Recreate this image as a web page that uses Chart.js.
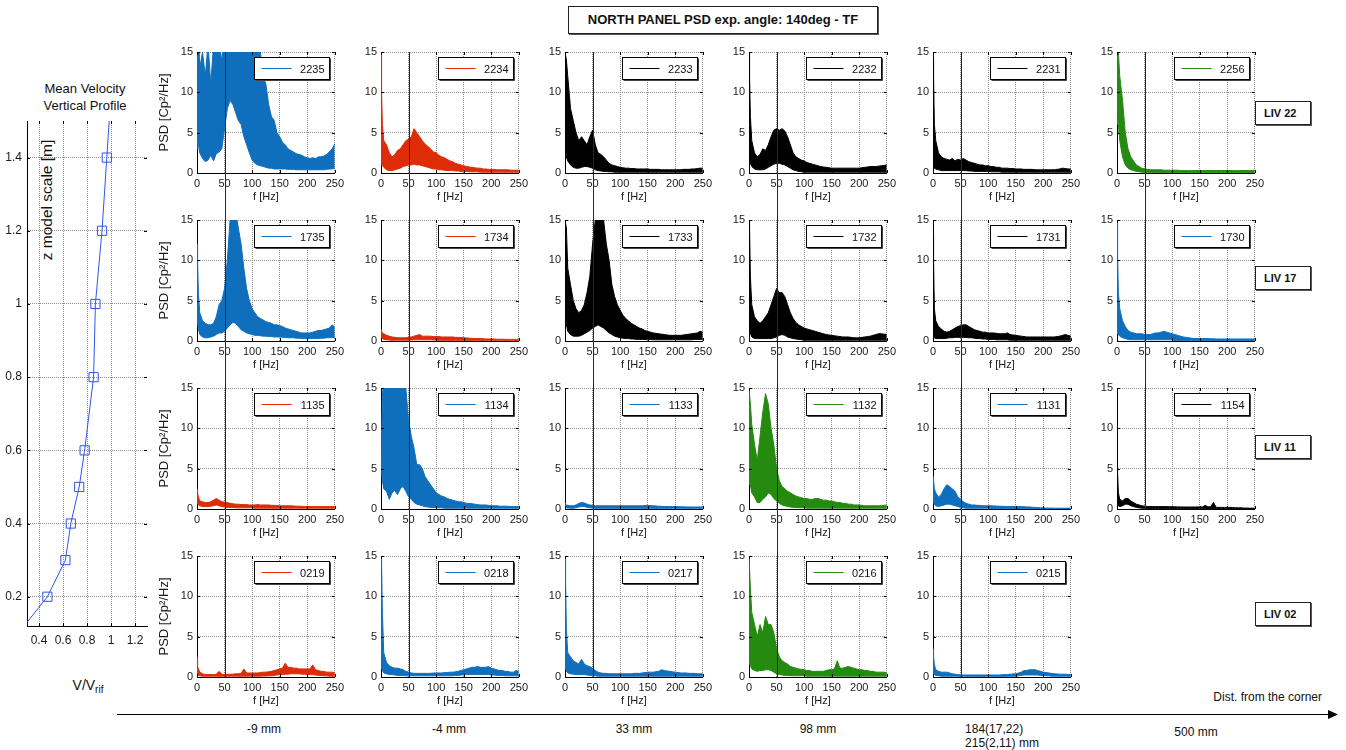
<!DOCTYPE html>
<html>
<head>
<meta charset="utf-8">
<script src="https://cdn.jsdelivr.net/npm/chart.js@4.4.1/dist/chart.umd.min.js"></script>
<style>
  body { margin: 0; width: 1346px; height: 750px; background: #fff; position: relative; overflow: hidden;
         font-family: 'Liberation Sans', Arial, sans-serif; color: #111; }
  canvas { position: absolute; }
  .txt { position: absolute; white-space: nowrap; }
  .box { position: absolute; box-sizing: border-box; background: #fff; border: 1px solid #222;
         box-shadow: 1px 1px 0 #555; font-weight: bold; }
</style>
</head>
<body>

<div class="box" style="left:568px; top:6px; width:310px; height:28px; line-height:26px; font-size:13px; text-align:center;">NORTH PANEL PSD exp. angle: 140deg - TF</div>

<div class="txt" style="left:20px; top:80px; width:130px; text-align:center; font-size:13px; line-height:17px;">Mean Velocity<br>Vertical Profile</div>
<div class="txt" style="left:47px; top:200px; font-size:15.5px; transform: translate(-50%, -50%) rotate(-90deg);">z model scale [m]</div>
<div class="txt" style="left:88px; top:686px; font-size:14px; transform: translate(-50%, -50%);">V/V<sub style="font-size:10px;">rif</sub></div>

<div id="liv"></div>

<svg style="position:absolute; left:0; top:700px;" width="1346" height="30">
  <line x1="117" y1="14.5" x2="1330" y2="14.5" stroke="#000" stroke-width="1"/>
  <path d="M1328 10 L1338 14.5 L1328 19 Z" fill="#000"/>
</svg>
<div class="txt" style="right:24px; top:690px; font-size:12px;">Dist. from the corner</div>
<div id="dist"></div>

<script>
// frequency grid shared by every PSD trace (Hz)
const FREQ = [0, 1, 2.5, 5,
  10, 15, 20, 25, 30, 35, 40, 45, 50,
  55, 60, 65, 70, 75, 80, 85, 90, 95, 100,
  105, 110, 115, 120, 125, 130, 135, 140, 145, 150,
  155, 160, 165, 170, 175, 180, 185, 190, 195, 200,
  205, 210, 215, 220, 225, 230, 235, 240, 245, 250];
const FREQ_TICKS = [0, 50, 100, 150, 200, 250];
const PSD_TICKS = [0, 5, 10, 15];
const MARK_FREQ = 50;

// upper / lower envelope of each noisy PSD trace
const hi2235 = [20, 20, 18, 13,
  15, 12, 16, 11, 16, 15, 16, 14, 17,
  17, 17, 16, 17, 16, 17, 16, 17, 16, 17,
  16, 16, 15, 12, 11, 8.5, 7, 6.5, 5, 4.5,
  3.8, 3.5, 3, 2.8, 2.6, 2.4, 2.3, 2.2, 2, 1.9,
  1.8, 1.9, 1.8, 2, 2, 2.1, 2.3, 2.6, 3, 3.6];
const lo2235 = [3, 4, 3.5, 2.5,
  1.8, 1.4, 1.6, 2.2, 1.5, 2.4, 2.6, 3, 5.5,
  8, 9, 8.5, 7.5, 6.5, 6, 4.5, 3.5, 2.5, 1.6,
  1.2, 1, 0.9, 0.8, 0.7, 0.6, 0.6, 0.5, 0.5, 0.5,
  0.5, 0.5, 0.45, 0.45, 0.45, 0.4, 0.4, 0.4, 0.4, 0.4,
  0.4, 0.4, 0.4, 0.4, 0.4, 0.4, 0.45, 0.5, 0.5, 0.6];

const hi2234 = [15, 10, 6, 4,
  3.5, 2.5, 2, 2.3, 2.8, 3, 3.5, 4, 4.2,
  4.5, 5.5, 5, 4.5, 4, 3.6, 3.3, 3, 2.6, 2.5,
  2.2, 2, 1.9, 1.7, 1.5, 1.4, 1.2, 1.1, 1, 0.9,
  0.8, 0.75, 0.7, 0.65, 0.6, 0.6, 0.5, 0.5, 0.45, 0.45,
  0.45, 0.4, 0.4, 0.4, 0.4, 0.4, 0.35, 0.35, 0.35, 0.35];
const lo2234 = [1, 1.2, 1, 0.7,
  0.4, 0.3, 0.3, 0.4, 0.5, 0.6, 0.8, 0.9, 1,
  1, 1.1, 1, 1, 0.9, 0.8, 0.7, 0.6, 0.5, 0.5,
  0.4, 0.4, 0.35, 0.3, 0.3, 0.3, 0.25, 0.25, 0.2, 0.2,
  0.2, 0.15, 0.15, 0.15, 0.15, 0.1, 0.1, 0.1, 0.1, 0.1,
  0.1, 0.1, 0.1, 0.1, 0.1, 0.1, 0.1, 0.1, 0.1, 0.1];

const hi2233 = [15, 15, 14, 12,
  8, 6.5, 5, 4, 4.5, 4, 3.5, 4.5, 5.3,
  3.5, 2.5, 2.3, 2, 1.6, 1.2, 1, 0.9, 0.8, 0.7,
  0.65, 0.6, 0.6, 0.55, 0.55, 0.5, 0.5, 0.5, 0.5, 0.5,
  0.45, 0.45, 0.45, 0.45, 0.4, 0.4, 0.4, 0.4, 0.4, 0.4,
  0.4, 0.4, 0.45, 0.45, 0.45, 0.5, 0.5, 0.55, 0.6, 0.6];
const lo2233 = [2, 3, 2, 1.5,
  1, 0.7, 0.6, 0.6, 0.7, 0.8, 0.8, 0.7, 0.6,
  0.4, 0.3, 0.25, 0.2, 0.2, 0.15, 0.15, 0.1, 0.1, 0.1,
  0.1, 0.1, 0.1, 0.1, 0.1, 0.1, 0.1, 0.1, 0.1, 0.1,
  0.1, 0.1, 0.1, 0.1, 0.1, 0.1, 0.1, 0.1, 0.1, 0.1,
  0.1, 0.1, 0.1, 0.1, 0.1, 0.1, 0.1, 0.1, 0.1, 0.1];

const hi2232 = [15, 12, 7, 4,
  2.5, 2, 2.3, 3, 2.8, 3.5, 4.5, 5.3, 5.5,
  5.3, 5.5, 5.2, 4.5, 3.5, 2.5, 2, 1.8, 1.6, 1.5,
  1.3, 1.2, 1.1, 1, 0.9, 0.8, 0.75, 0.7, 0.65, 0.6,
  0.6, 0.6, 0.6, 0.6, 0.6, 0.6, 0.6, 0.6, 0.6, 0.6,
  0.65, 0.7, 0.75, 0.8, 0.8, 0.8, 0.85, 0.9, 0.95, 1];
const lo2232 = [1, 1.5, 1.2, 0.8,
  0.5, 0.4, 0.4, 0.4, 0.5, 0.7, 0.9, 1.1, 1.2,
  1.2, 1.1, 1, 0.8, 0.6, 0.4, 0.3, 0.2, 0.15, 0.1,
  0.1, 0.1, 0.1, 0.1, 0.1, 0.1, 0.1, 0.1, 0.1, 0.1,
  0.1, 0.1, 0.1, 0.1, 0.1, 0.1, 0.1, 0.1, 0.1, 0.1,
  0.1, 0.1, 0.1, 0.1, 0.1, 0.1, 0.1, 0.1, 0.1, 0.1];

const hi2231 = [14, 12, 6, 4,
  2.5, 2, 1.8, 1.7, 1.6, 1.8, 1.5, 1.7, 1.6,
  1.8, 1.6, 1.4, 1.3, 1.2, 1.1, 1, 1, 0.9, 0.9,
  0.8, 0.8, 0.7, 0.7, 0.6, 0.6, 0.6, 0.55, 0.55, 0.5,
  0.5, 0.5, 0.45, 0.45, 0.45, 0.45, 0.4, 0.4, 0.4, 0.4,
  0.4, 0.4, 0.4, 0.4, 0.45, 0.5, 0.6, 0.55, 0.5, 0.5];
const lo2231 = [0.5, 0.8, 0.6, 0.5,
  0.4, 0.3, 0.3, 0.3, 0.3, 0.3, 0.3, 0.3, 0.3,
  0.3, 0.3, 0.25, 0.25, 0.2, 0.2, 0.2, 0.2, 0.2, 0.2,
  0.15, 0.15, 0.15, 0.15, 0.1, 0.1, 0.1, 0.1, 0.1, 0.1,
  0.1, 0.1, 0.1, 0.1, 0.1, 0.1, 0.1, 0.1, 0.1, 0.1,
  0.1, 0.1, 0.1, 0.1, 0.1, 0.1, 0.1, 0.1, 0.1, 0.1];

const hi2256 = [15, 15, 15, 12,
  9, 5, 3, 2, 1.5, 1, 0.8, 0.6, 0.5,
  0.45, 0.4, 0.4, 0.4, 0.4, 0.4, 0.35, 0.35, 0.35, 0.35,
  0.35, 0.35, 0.3, 0.3, 0.3, 0.3, 0.3, 0.3, 0.3, 0.3,
  0.3, 0.3, 0.3, 0.3, 0.3, 0.3, 0.3, 0.3, 0.3, 0.3,
  0.3, 0.3, 0.3, 0.3, 0.3, 0.3, 0.3, 0.3, 0.3, 0.35];
const lo2256 = [6, 8, 6, 4,
  2, 1, 0.6, 0.4, 0.3, 0.2, 0.15, 0.1, 0.1,
  0.05, 0.05, 0.05, 0.05, 0.05, 0.05, 0.05, 0.05, 0.05, 0.05,
  0.05, 0.05, 0.05, 0.05, 0.05, 0.05, 0.05, 0.05, 0.05, 0.05,
  0.05, 0.05, 0.05, 0.05, 0.05, 0.05, 0.05, 0.05, 0.05, 0.05,
  0.05, 0.05, 0.05, 0.05, 0.05, 0.05, 0.05, 0.05, 0.05, 0.05];

const hi1735 = [12, 10, 6, 3.5,
  2.5, 2.2, 2, 2, 2.2, 3, 4.5, 5, 6.5,
  10, 15, 16, 16, 14, 12, 9, 6.5, 5, 4,
  3.5, 3, 2.8, 2.6, 2.4, 2.3, 2.2, 2, 2, 1.9,
  1.8, 1.6, 1.5, 1.4, 1.3, 1.2, 1.1, 1, 1, 1,
  1, 1.1, 1.2, 1.3, 1.3, 1.4, 1.5, 1.6, 2, 1.7];
const lo1735 = [2, 2.5, 1.5, 0.8,
  0.5, 0.4, 0.4, 0.5, 0.6, 0.8, 1, 1, 1.2,
  1.6, 2, 2.3, 2.2, 1.8, 1.4, 1.2, 1, 0.9, 0.8,
  0.7, 0.7, 0.65, 0.6, 0.6, 0.55, 0.55, 0.5, 0.5, 0.5,
  0.45, 0.45, 0.4, 0.4, 0.4, 0.35, 0.35, 0.3, 0.3, 0.3,
  0.3, 0.3, 0.3, 0.3, 0.35, 0.35, 0.4, 0.4, 0.45, 0.4];

const hi1734 = [1.4, 1.2, 1, 0.9,
  0.7, 0.6, 0.5, 0.45, 0.4, 0.4, 0.4, 0.4, 0.45,
  0.5, 0.6, 0.7, 0.8, 0.6, 0.6, 0.6, 0.6, 0.55, 0.55,
  0.55, 0.5, 0.5, 0.5, 0.5, 0.5, 0.45, 0.45, 0.42, 0.4,
  0.38, 0.35, 0.33, 0.3, 0.3, 0.3, 0.28, 0.25, 0.25, 0.25,
  0.25, 0.22, 0.22, 0.22, 0.2, 0.2, 0.2, 0.2, 0.2, 0.2];
const lo1734 = [0.3, 0.4, 0.3, 0.2,
  0.15, 0.12, 0.1, 0.1, 0.1, 0.1, 0.1, 0.1, 0.1,
  0.12, 0.15, 0.15, 0.15, 0.15, 0.15, 0.15, 0.15, 0.12, 0.12,
  0.08, 0.08, 0.08, 0.08, 0.08, 0.08, 0.08, 0.08, 0.08, 0.08,
  0.08, 0.08, 0.08, 0.08, 0.08, 0.08, 0.08, 0.08, 0.08, 0.08,
  0.08, 0.08, 0.08, 0.08, 0.08, 0.08, 0.08, 0.08, 0.08, 0.08];

const hi1733 = [15, 15, 14, 9,
  7, 5, 4, 3.5, 3.8, 4.5, 6, 8, 12,
  15, 16, 16, 15, 12, 10, 7, 5.5, 4.5, 3.8,
  3.2, 2.8, 2.5, 2.2, 2, 1.8, 1.6, 1.5, 1.3, 1.2,
  1.1, 1, 0.95, 0.9, 0.85, 0.8, 0.75, 0.7, 0.7, 0.7,
  0.7, 0.7, 0.75, 0.8, 0.85, 0.9, 0.95, 1, 1.2, 1.1];
const lo1733 = [2.5, 3, 2, 1.2,
  0.8, 0.6, 0.6, 0.6, 0.7, 0.9, 1.1, 1.3, 1.6,
  1.8, 2, 1.8, 1.6, 1.3, 1, 0.8, 0.6, 0.5, 0.4,
  0.35, 0.3, 0.3, 0.25, 0.25, 0.2, 0.2, 0.2, 0.2, 0.2,
  0.2, 0.15, 0.15, 0.15, 0.15, 0.15, 0.15, 0.15, 0.15, 0.15,
  0.15, 0.15, 0.15, 0.15, 0.15, 0.15, 0.2, 0.2, 0.2, 0.2];

const hi1732 = [15, 14, 8, 4.5,
  3, 2.5, 2.2, 2.5, 3, 3.5, 4.5, 5.5, 6.5,
  6, 6, 5.5, 4.5, 3.5, 2.8, 2.3, 2, 1.8, 1.6,
  1.5, 1.4, 1.3, 1.2, 1.1, 1, 0.9, 0.8, 0.75, 0.7,
  0.65, 0.6, 0.55, 0.5, 0.5, 0.5, 0.45, 0.4, 0.4, 0.4,
  0.45, 0.5, 0.55, 0.6, 0.7, 0.8, 0.9, 0.9, 0.85, 0.8];
const lo1732 = [1, 1.5, 1, 0.5,
  0.3, 0.3, 0.3, 0.3, 0.3, 0.3, 0.3, 0.4, 0.5,
  0.7, 0.8, 0.7, 0.5, 0.4, 0.3, 0.25, 0.2, 0.15, 0.1,
  0.1, 0.1, 0.1, 0.1, 0.1, 0.1, 0.1, 0.1, 0.1, 0.1,
  0.1, 0.1, 0.1, 0.1, 0.1, 0.1, 0.1, 0.1, 0.1, 0.1,
  0.1, 0.1, 0.1, 0.1, 0.1, 0.1, 0.1, 0.1, 0.1, 0.1];

const hi1731 = [13, 10, 4, 2.5,
  1.8, 1.5, 1.2, 1.1, 1.2, 1.4, 1.6, 1.8, 1.9,
  2, 2, 1.8, 1.6, 1.4, 1.3, 1.2, 1.1, 1.1, 1,
  1, 1, 0.95, 0.9, 0.9, 0.9, 1, 0.8, 0.75, 0.7,
  0.65, 0.6, 0.55, 0.5, 0.5, 0.5, 0.5, 0.5, 0.5, 0.5,
  0.5, 0.5, 0.5, 0.5, 0.55, 0.6, 0.7, 0.8, 0.7, 0.6];
const lo1731 = [0.3, 0.5, 0.4, 0.3,
  0.3, 0.3, 0.3, 0.35, 0.4, 0.4, 0.45, 0.45, 0.45,
  0.45, 0.45, 0.4, 0.4, 0.35, 0.3, 0.3, 0.25, 0.25, 0.2,
  0.2, 0.2, 0.15, 0.15, 0.15, 0.15, 0.15, 0.1, 0.1, 0.1,
  0.1, 0.1, 0.1, 0.1, 0.1, 0.1, 0.1, 0.1, 0.1, 0.1,
  0.1, 0.1, 0.1, 0.1, 0.1, 0.1, 0.1, 0.1, 0.1, 0.1];

const hi1730 = [15, 11, 6, 4,
  2.5, 1.8, 1.3, 1.1, 1, 0.9, 0.9, 0.9, 0.8,
  0.8, 0.8, 0.9, 1, 1, 1.1, 1.2, 1.1, 1, 0.9,
  0.8, 0.7, 0.6, 0.5, 0.45, 0.4, 0.35, 0.3, 0.3, 0.3,
  0.3, 0.3, 0.3, 0.28, 0.28, 0.25, 0.25, 0.25, 0.25, 0.25,
  0.25, 0.25, 0.25, 0.25, 0.25, 0.25, 0.25, 0.25, 0.25, 0.25];
const lo1730 = [1, 1, 0.8, 0.6,
  0.4, 0.3, 0.2, 0.15, 0.15, 0.15, 0.15, 0.15, 0.15,
  0.15, 0.15, 0.15, 0.15, 0.15, 0.15, 0.15, 0.15, 0.15, 0.15,
  0.05, 0.05, 0.05, 0.05, 0.05, 0.05, 0.05, 0.05, 0.05, 0.05,
  0.05, 0.05, 0.05, 0.05, 0.05, 0.05, 0.05, 0.05, 0.05, 0.05,
  0.05, 0.05, 0.05, 0.05, 0.05, 0.05, 0.05, 0.05, 0.05, 0.05];

const hi1135 = [2.5, 2, 1.5, 1,
  0.9, 0.8, 0.8, 0.9, 1.1, 1.3, 1.1, 0.9, 0.85,
  0.8, 0.7, 0.65, 0.6, 0.6, 0.55, 0.55, 0.55, 0.5, 0.5,
  0.5, 0.55, 0.5, 0.5, 0.5, 0.5, 0.45, 0.45, 0.42, 0.4,
  0.4, 0.4, 0.4, 0.4, 0.38, 0.35, 0.35, 0.33, 0.3, 0.3,
  0.3, 0.3, 0.3, 0.3, 0.3, 0.3, 0.3, 0.3, 0.3, 0.3];
const lo1135 = [0.8, 0.7, 0.5, 0.4,
  0.3, 0.3, 0.3, 0.35, 0.4, 0.5, 0.4, 0.3, 0.25,
  0.2, 0.2, 0.2, 0.15, 0.15, 0.15, 0.15, 0.15, 0.15, 0.15,
  0.1, 0.1, 0.1, 0.1, 0.1, 0.1, 0.1, 0.1, 0.1, 0.1,
  0.1, 0.1, 0.1, 0.1, 0.1, 0.1, 0.1, 0.1, 0.1, 0.1,
  0.1, 0.1, 0.1, 0.1, 0.1, 0.1, 0.1, 0.1, 0.1, 0.1];

const hi1134 = [7, 9, 14, 16,
  16, 16, 16, 16, 16, 16, 16, 15, 11,
  9, 7.5, 5.5, 5.5, 5, 4, 3.5, 3, 2.5, 2,
  1.8, 1.6, 1.5, 1.3, 1.2, 1.1, 1, 0.9, 0.9, 0.8,
  0.7, 0.7, 0.65, 0.6, 0.55, 0.5, 0.5, 0.5, 0.45, 0.4,
  0.4, 0.4, 0.35, 0.35, 0.35, 0.35, 0.3, 0.3, 0.3, 0.3];
const lo1134 = [6, 5, 3.5, 2.5,
  2.2, 1.2, 2, 2.3, 1.8, 2.5, 2.8, 2.2, 1.5,
  1.2, 0.8, 0.6, 0.5, 0.4, 0.3, 0.25, 0.2, 0.2, 0.15,
  0.15, 0.15, 0.1, 0.1, 0.1, 0.1, 0.1, 0.1, 0.1, 0.1,
  0.1, 0.1, 0.1, 0.1, 0.1, 0.1, 0.1, 0.1, 0.1, 0.1,
  0.1, 0.1, 0.1, 0.1, 0.1, 0.1, 0.1, 0.1, 0.1, 0.1];

const hi1133 = [0.7, 0.6, 0.5, 0.45,
  0.4, 0.4, 0.5, 0.7, 0.8, 0.75, 0.6, 0.5, 0.45,
  0.4, 0.4, 0.4, 0.4, 0.4, 0.4, 0.4, 0.4, 0.4, 0.4,
  0.4, 0.4, 0.4, 0.4, 0.4, 0.4, 0.4, 0.4, 0.42, 0.45,
  0.42, 0.4, 0.38, 0.35, 0.33, 0.3, 0.3, 0.3, 0.3, 0.3,
  0.28, 0.28, 0.28, 0.25, 0.25, 0.25, 0.25, 0.25, 0.25, 0.25];
const lo1133 = [0.2, 0.2, 0.15, 0.12,
  0.1, 0.1, 0.15, 0.25, 0.3, 0.3, 0.2, 0.15, 0.12,
  0.08, 0.08, 0.08, 0.08, 0.08, 0.08, 0.08, 0.08, 0.08, 0.08,
  0.08, 0.08, 0.08, 0.08, 0.08, 0.08, 0.08, 0.08, 0.08, 0.08,
  0.08, 0.08, 0.08, 0.08, 0.08, 0.08, 0.08, 0.08, 0.08, 0.08,
  0.08, 0.08, 0.08, 0.08, 0.08, 0.08, 0.08, 0.08, 0.08, 0.08];

const hi1132 = [15, 15, 13, 10.5,
  8, 6, 9, 12, 14.3, 13, 10, 8, 5,
  3.5, 2.8, 2.5, 2.2, 2, 1.8, 1.6, 1.5, 1.4, 1.3,
  1.3, 1.2, 1.2, 1.3, 1.3, 1.2, 1.1, 1.1, 1, 1,
  0.9, 0.8, 0.8, 0.7, 0.7, 0.6, 0.6, 0.5, 0.5, 0.5,
  0.45, 0.4, 0.4, 0.4, 0.4, 0.4, 0.4, 0.4, 0.45, 0.5];
const lo1132 = [3, 4, 3, 2,
  1.5, 0.8, 0.8, 1.2, 1.5, 2, 1.8, 1.3, 1,
  0.7, 0.5, 0.4, 0.3, 0.25, 0.2, 0.2, 0.15, 0.15, 0.15,
  0.1, 0.1, 0.1, 0.1, 0.1, 0.1, 0.1, 0.1, 0.1, 0.1,
  0.1, 0.1, 0.1, 0.1, 0.1, 0.1, 0.1, 0.1, 0.1, 0.1,
  0.1, 0.1, 0.1, 0.1, 0.1, 0.1, 0.1, 0.1, 0.1, 0.1];

const hi1131 = [4, 3.5, 2.5, 2,
  1.5, 1.8, 2.5, 3, 2.8, 2.5, 2.2, 1.5, 1.2,
  0.9, 0.7, 0.6, 0.5, 0.5, 0.45, 0.45, 0.4, 0.4, 0.4,
  0.4, 0.38, 0.36, 0.35, 0.33, 0.32, 0.3, 0.3, 0.3, 0.3,
  0.3, 0.3, 0.28, 0.26, 0.25, 0.22, 0.2, 0.18, 0.15, 0.15,
  0.12, 0.12, 0.12, 0.1, 0.1, 0.1, 0.1, 0.1, 0.1, 0.1];
const lo1131 = [1, 0.8, 0.6, 0.4,
  0.3, 0.4, 0.5, 0.6, 0.6, 0.5, 0.4, 0.3, 0.2,
  0.15, 0.1, 0.1, 0.1, 0.1, 0.1, 0.1, 0.1, 0.1, 0.1,
  0.05, 0.05, 0.05, 0.05, 0.05, 0.05, 0.05, 0.05, 0.05, 0.05,
  0.05, 0.05, 0.05, 0.05, 0.05, 0.05, 0.05, 0.05, 0.05, 0.05,
  0.05, 0.05, 0.05, 0.05, 0.05, 0.05, 0.05, 0.05, 0.05, 0.05];

const hi1154 = [5, 4.5, 2, 1.2,
  1, 1.3, 1.3, 1, 0.8, 0.6, 0.5, 0.4, 0.35,
  0.3, 0.3, 0.3, 0.3, 0.3, 0.3, 0.3, 0.3, 0.28, 0.28,
  0.28, 0.26, 0.26, 0.25, 0.25, 0.25, 0.25, 0.25, 0.25, 0.25,
  0.25, 0.45, 0.25, 0.3, 0.8, 0.2, 0.2, 0.2, 0.2, 0.2,
  0.2, 0.18, 0.16, 0.15, 0.15, 0.12, 0.12, 0.1, 0.1, 0.1];
const lo1154 = [0.3, 0.5, 0.4, 0.3,
  0.4, 0.6, 0.6, 0.4, 0.3, 0.2, 0.15, 0.1, 0.08,
  0.05, 0.05, 0.05, 0.05, 0.05, 0.05, 0.05, 0.05, 0.05, 0.05,
  0.05, 0.05, 0.05, 0.05, 0.05, 0.05, 0.05, 0.05, 0.05, 0.05,
  0.05, 0.05, 0.05, 0.05, 0.05, 0.05, 0.05, 0.05, 0.05, 0.05,
  0.05, 0.05, 0.05, 0.05, 0.05, 0.05, 0.05, 0.05, 0.05, 0.05];

const hi0219 = [2.5, 1.3, 1, 0.6,
  0.4, 0.3, 0.3, 0.3, 0.3, 0.35, 0.7, 0.35, 0.3,
  0.3, 0.35, 0.35, 0.4, 0.4, 0.45, 1, 0.5, 0.5, 0.5,
  0.5, 0.5, 0.55, 0.6, 0.6, 0.65, 0.7, 0.8, 0.9, 1,
  1.1, 1.7, 1.2, 1.2, 1.1, 1.1, 1, 1, 1, 1,
  1, 1.5, 0.9, 0.8, 0.7, 0.7, 0.6, 0.6, 0.6, 0.5];
const lo0219 = [0.3, 0.3, 0.2, 0.15,
  0.1, 0.1, 0.1, 0.1, 0.1, 0.1, 0.1, 0.1, 0.1,
  0.1, 0.1, 0.1, 0.1, 0.1, 0.1, 0.1, 0.1, 0.1, 0.1,
  0.1, 0.1, 0.1, 0.12, 0.12, 0.15, 0.15, 0.2, 0.25, 0.3,
  0.3, 0.35, 0.35, 0.4, 0.4, 0.4, 0.4, 0.35, 0.35, 0.3,
  0.3, 0.3, 0.25, 0.2, 0.2, 0.15, 0.15, 0.1, 0.1, 0.1];

const hi0218 = [15, 14, 8, 3,
  1.8, 1.4, 1.2, 1.1, 1.1, 1, 0.9, 0.7, 0.6,
  0.5, 0.45, 0.45, 0.45, 0.45, 0.45, 0.45, 0.45, 0.5, 0.5,
  0.5, 0.5, 0.55, 0.55, 0.6, 0.6, 0.65, 0.7, 0.8, 0.9,
  1, 1.1, 1.2, 1.2, 1.3, 1.2, 1.2, 1.2, 1.3, 1.1,
  1, 0.9, 0.8, 0.8, 0.7, 0.7, 0.6, 0.6, 0.8, 0.7];
const lo0218 = [1, 1.5, 0.8, 0.5,
  0.4, 0.3, 0.3, 0.25, 0.2, 0.2, 0.2, 0.15, 0.15,
  0.15, 0.15, 0.15, 0.15, 0.15, 0.15, 0.15, 0.15, 0.15, 0.15,
  0.15, 0.15, 0.15, 0.15, 0.15, 0.15, 0.2, 0.2, 0.25, 0.25,
  0.3, 0.3, 0.3, 0.3, 0.3, 0.3, 0.3, 0.3, 0.3, 0.25,
  0.25, 0.2, 0.2, 0.2, 0.15, 0.15, 0.15, 0.15, 0.15, 0.15];

const hi0217 = [15, 12, 6, 3,
  2.5, 2, 1.8, 1.6, 2.2, 1.6, 1.4, 1.3, 1.1,
  0.8, 0.6, 0.5, 0.45, 0.45, 0.4, 0.4, 0.4, 0.4, 0.4,
  0.4, 0.4, 0.4, 0.4, 0.45, 0.45, 0.45, 0.5, 0.55, 0.6,
  0.6, 0.6, 0.65, 0.7, 0.9, 0.8, 0.75, 0.7, 0.65, 0.6,
  0.55, 0.5, 0.5, 0.5, 0.45, 0.45, 0.45, 0.4, 0.4, 0.4];
const lo0217 = [1, 1.2, 0.7, 0.5,
  0.4, 0.35, 0.3, 0.3, 0.3, 0.3, 0.25, 0.2, 0.2,
  0.15, 0.1, 0.1, 0.1, 0.1, 0.1, 0.1, 0.1, 0.1, 0.1,
  0.1, 0.1, 0.1, 0.1, 0.1, 0.1, 0.1, 0.1, 0.1, 0.1,
  0.1, 0.1, 0.1, 0.1, 0.1, 0.1, 0.1, 0.1, 0.1, 0.1,
  0.1, 0.1, 0.1, 0.1, 0.1, 0.1, 0.1, 0.1, 0.1, 0.1];

const hi0216 = [15, 15, 11, 8,
  6.5, 5, 6.5, 5.5, 7.5, 6.5, 6.5, 5.5, 3.5,
  2.5, 2, 1.8, 1.6, 1.3, 1.2, 1.1, 1, 0.95, 0.9,
  0.8, 0.8, 0.7, 0.7, 0.7, 0.7, 0.7, 0.8, 0.9, 0.9,
  1, 2, 1.1, 1.1, 1.2, 1.3, 1.2, 1.1, 1, 0.9,
  0.9, 0.8, 0.8, 0.7, 0.7, 0.6, 0.6, 0.6, 0.6, 0.5];
const lo0216 = [1.5, 2, 1.5, 1,
  0.8, 0.7, 0.8, 0.8, 0.9, 0.9, 0.8, 0.6, 0.4,
  0.3, 0.25, 0.2, 0.2, 0.15, 0.15, 0.15, 0.15, 0.15, 0.15,
  0.1, 0.1, 0.1, 0.1, 0.1, 0.1, 0.1, 0.1, 0.1, 0.1,
  0.1, 0.1, 0.1, 0.1, 0.1, 0.1, 0.1, 0.1, 0.1, 0.1,
  0.1, 0.1, 0.1, 0.1, 0.1, 0.1, 0.1, 0.1, 0.1, 0.1];

const hi0215 = [3.5, 2.5, 1.5, 0.9,
  0.7, 0.6, 0.6, 0.6, 0.5, 0.4, 0.35, 0.3, 0.25,
  0.25, 0.25, 0.25, 0.25, 0.25, 0.25, 0.25, 0.25, 0.25, 0.25,
  0.25, 0.25, 0.25, 0.25, 0.28, 0.3, 0.3, 0.35, 0.38, 0.4,
  0.5, 0.6, 0.8, 0.8, 0.9, 0.9, 0.9, 0.8, 0.7, 0.6,
  0.55, 0.5, 0.45, 0.4, 0.38, 0.35, 0.35, 0.35, 0.3, 0.3];
const lo0215 = [0.5, 0.4, 0.3, 0.2,
  0.15, 0.1, 0.1, 0.1, 0.1, 0.1, 0.1, 0.1, 0.08,
  0.08, 0.08, 0.08, 0.08, 0.08, 0.08, 0.08, 0.08, 0.08, 0.08,
  0.08, 0.08, 0.08, 0.08, 0.08, 0.08, 0.08, 0.08, 0.1, 0.1,
  0.15, 0.2, 0.25, 0.25, 0.25, 0.25, 0.25, 0.25, 0.2, 0.2,
  0.15, 0.15, 0.1, 0.1, 0.1, 0.1, 0.1, 0.1, 0.1, 0.1];

// mean velocity vertical profile
const PROFILE_Z = [0.2, 0.3, 0.4, 0.5, 0.6, 0.8, 1.0, 1.2, 1.4];
const PROFILE_V = [0.47, 0.62, 0.665, 0.735, 0.78, 0.855, 0.87, 0.925, 0.965];
const PROFILE_LINE_Z = [0.13, 0.2, 0.3, 0.4, 0.5, 0.6, 0.8, 1.0, 1.2, 1.4, 1.5];
const PROFILE_LINE_V = [0.30, 0.47, 0.62, 0.665, 0.735, 0.78, 0.855, 0.87, 0.925, 0.965, 0.985];
const PROFILE_V_TICKS = [0.4, 0.6, 0.8, 1.0, 1.2];
const PROFILE_Z_TICKS = [0.2, 0.4, 0.6, 0.8, 1.0, 1.2, 1.4];

const ROW_LABELS = ['LIV 22', 'LIV 17', 'LIV 11', 'LIV 02'];
const DIST_LABELS = ['-9 mm', '-4 mm', '33 mm', '98 mm', '184(17,22)<br>215(2,11) mm', '500 mm'];

const BLUE = '#0f6fbd', RED = '#de2c08', BLACK = '#000000', GREEN = '#258a10';

// grid of panels: [sensor, upper, lower, colour]
const PANELS = [
  [['2235', hi2235, lo2235, BLUE], ['2234', hi2234, lo2234, RED], ['2233', hi2233, lo2233, BLACK],
   ['2232', hi2232, lo2232, BLACK], ['2231', hi2231, lo2231, BLACK], ['2256', hi2256, lo2256, GREEN]],
  [['1735', hi1735, lo1735, BLUE], ['1734', hi1734, lo1734, RED], ['1733', hi1733, lo1733, BLACK],
   ['1732', hi1732, lo1732, BLACK], ['1731', hi1731, lo1731, BLACK], ['1730', hi1730, lo1730, BLUE]],
  [['1135', hi1135, lo1135, RED], ['1134', hi1134, lo1134, BLUE], ['1133', hi1133, lo1133, BLUE],
   ['1132', hi1132, lo1132, GREEN], ['1131', hi1131, lo1131, BLUE], ['1154', hi1154, lo1154, BLACK]],
  [['0219', hi0219, lo0219, RED], ['0218', hi0218, lo0218, BLUE], ['0217', hi0217, lo0217, BLUE],
   ['0216', hi0216, lo0216, GREEN], ['0215', hi0215, lo0215, BLUE], null]
];

// layout
const COL_LEFT = [197, 381, 565, 749, 933, 1117];
const ROW_TOP = [52, 220, 388, 556];
const AXES_W = 139, AXES_H = 121;
const PAD_L = 44, PAD_R = 12, PAD_T = 14, PAD_B = 33;
const FONT = "'Liberation Sans', Arial, sans-serif";
const GRID_COLOR = '#8c8c8c';

Chart.defaults.font.family = FONT;
Chart.defaults.color = '#1a1a1a';

function addCanvas(left, top, w, h) {
  const c = document.createElement('canvas');
  c.width = w; c.height = h;
  c.style.left = left + 'px'; c.style.top = top + 'px';
  c.style.width = w + 'px'; c.style.height = h + 'px';
  document.body.appendChild(c);
  return c;
}

// inward ticks on the frame, the long 50 Hz marker and the MATLAB-like legend box
const panelDecor = {
  id: 'panelDecor',
  afterDraw(chart, args, opts) {
    const { ctx, chartArea: a, scales: { x, y } } = chart;
    ctx.save();
    ctx.strokeStyle = '#000';
    ctx.lineWidth = 1;
    ctx.beginPath();
    x.ticks.forEach(t => {
      const px = Math.round(x.getPixelForValue(t.value)) + 0.5;
      ctx.moveTo(px, a.bottom); ctx.lineTo(px, a.bottom - 3);
      ctx.moveTo(px, a.top); ctx.lineTo(px, a.top + 3);
    });
    y.ticks.forEach(t => {
      const py = Math.round(y.getPixelForValue(t.value)) + 0.5;
      ctx.moveTo(a.left, py); ctx.lineTo(a.left + 3, py);
      ctx.moveTo(a.right, py); ctx.lineTo(a.right - 3, py);
    });
    ctx.stroke();

    if (opts.mark !== undefined) {
      const px = Math.round(x.getPixelForValue(opts.mark)) + 0.5;
      ctx.strokeStyle = '#2a2a2a';
      ctx.beginPath();
      ctx.moveTo(px, opts.lineUp ? 0 : a.top);
      ctx.lineTo(px, opts.lineDown ? chart.height : a.bottom);
      ctx.stroke();
    }

    if (opts.label) {
      const bw = 75, bh = 22;
      const bx = Math.round(a.right - bw - 6) + 0.5, by = Math.round(a.top + 5) + 0.5;
      ctx.fillStyle = '#fff';
      ctx.fillRect(bx, by, bw, bh);
      ctx.strokeStyle = '#000';
      ctx.strokeRect(bx, by, bw, bh);
      ctx.strokeStyle = '#444';
      ctx.beginPath();
      ctx.moveTo(bx + bw + 1, by + 1); ctx.lineTo(bx + bw + 1, by + bh + 1); ctx.lineTo(bx + 1, by + bh + 1);
      ctx.stroke();
      ctx.strokeStyle = opts.color;
      ctx.beginPath();
      ctx.moveTo(bx + 7, by + bh / 2); ctx.lineTo(bx + 37, by + bh / 2);
      ctx.stroke();
      ctx.fillStyle = '#111';
      ctx.font = '11px ' + FONT;
      ctx.textAlign = 'right';
      ctx.textBaseline = 'middle';
      ctx.fillText(opts.label, bx + bw - 5, by + bh / 2 + 1);
    }
    ctx.restore();
  }
};

function lastRowOfColumn(c) {
  let last = 0;
  PANELS.forEach((row, r) => { if (row[c]) last = r; });
  return last;
}

function makePanel(r, c, panel) {
  const [sensor, hi, lo, color] = panel;
  if (hi.length !== FREQ.length || lo.length !== FREQ.length) console.error('length mismatch', sensor, hi.length, lo.length);
  const canvas = addCanvas(COL_LEFT[c] - PAD_L, ROW_TOP[r] - PAD_T, PAD_L + AXES_W + PAD_R, PAD_T + AXES_H + PAD_B);
  const upper = FREQ.map((f, i) => ({ x: f, y: hi[i] }));
  const lower = FREQ.map((f, i) => ({ x: f, y: lo[i] }));
  new Chart(canvas, {
    type: 'line',
    data: {
      datasets: [
        { data: upper, borderColor: color, backgroundColor: color, borderWidth: 1, pointRadius: 0, tension: 0, fill: '+1' },
        { data: lower, borderColor: color, borderWidth: 1, pointRadius: 0, tension: 0, fill: false }
      ]
    },
    options: {
      responsive: false,
      animation: false,
      devicePixelRatio: 1,
      events: [],
      layout: { padding: { left: 0, right: PAD_R, top: PAD_T, bottom: 0 }, autoPadding: false },
      plugins: {
        legend: { display: false },
        tooltip: { enabled: false },
        panelDecor: {
          label: sensor, color: color, mark: MARK_FREQ,
          lineUp: r > 0, lineDown: r < lastRowOfColumn(c)
        }
      },
      scales: {
        x: {
          type: 'linear', min: 0, max: 250,
          afterBuildTicks: s => { s.ticks = FREQ_TICKS.map(v => ({ value: v })); },
          afterFit: s => { s.height = PAD_B; },
          ticks: { font: { size: 11 }, padding: 4, maxRotation: 0, autoSkip: false, color: '#1a1a1a' },
          grid: { color: GRID_COLOR, lineWidth: 1, drawTicks: false },
          border: { display: true, color: '#000', width: 1, dash: [1, 1] },
          title: { display: true, text: 'f [Hz]', font: { size: 11 }, padding: { top: 0, bottom: 2 }, color: '#1a1a1a' }
        },
        y: {
          type: 'linear', min: 0, max: 15,
          afterBuildTicks: s => { s.ticks = PSD_TICKS.map(v => ({ value: v })); },
          afterFit: s => { s.width = PAD_L; },
          ticks: { font: { size: 11 }, padding: 4, color: '#1a1a1a' },
          grid: { color: GRID_COLOR, lineWidth: 1, drawTicks: false },
          border: { display: true, color: '#000', width: 1, dash: [1, 1] },
          title: { display: c === 0, text: 'PSD [Cp²/Hz]', font: { size: 13 }, padding: { top: 4, bottom: 0 }, color: '#1a1a1a' }
        }
      }
    },
    plugins: [panelDecor]
  });
}

PANELS.forEach((row, r) => row.forEach((panel, c) => { if (panel) makePanel(r, c, panel); }));

// velocity profile on the left
(function () {
  const canvas = addCanvas(0, 70, 160, 640);
  const PROFILE_COLOR = '#2f55f0';
  new Chart(canvas, {
    type: 'line',
    data: {
      datasets: [
        { data: PROFILE_LINE_V.map((v, i) => ({ x: v, y: PROFILE_LINE_Z[i] })), borderColor: PROFILE_COLOR,
          borderWidth: 1, pointRadius: 0, tension: 0, fill: false },
        { data: PROFILE_V.map((v, i) => ({ x: v, y: PROFILE_Z[i] })), showLine: false, pointStyle: 'rect',
          pointRadius: 6.5, borderColor: PROFILE_COLOR, backgroundColor: 'rgba(0,0,0,0)', pointBorderWidth: 1 }
      ]
    },
    options: {
      responsive: false,
      animation: false,
      devicePixelRatio: 1,
      events: [],
      layout: { padding: { left: 0, right: 13, top: 51, bottom: 0 }, autoPadding: false },
      plugins: { legend: { display: false }, tooltip: { enabled: false }, panelDecor: {} },
      scales: {
        x: {
          type: 'linear', min: 0.3, max: 1.3,
          afterBuildTicks: s => { s.ticks = PROFILE_V_TICKS.map(v => ({ value: v })); },
          afterFit: s => { s.height = 84; },
          ticks: { font: { size: 12 }, padding: 7, maxRotation: 0, autoSkip: false, color: '#1a1a1a',
                   callback: v => String(v) },
          grid: { color: GRID_COLOR, lineWidth: 1, drawTicks: false },
          border: { display: true, color: '#000', width: 1, dash: [1, 1] }
        },
        y: {
          type: 'linear', min: 0.12, max: 1.5,
          afterBuildTicks: s => { s.ticks = PROFILE_Z_TICKS.map(v => ({ value: v })); },
          afterFit: s => { s.width = 27; },
          ticks: { font: { size: 12 }, padding: 5, color: '#1a1a1a', callback: v => String(v) },
          grid: { color: GRID_COLOR, lineWidth: 1, drawTicks: false },
          border: { display: true, color: '#000', width: 1, dash: [1, 1] }
        }
      }
    },
    plugins: [panelDecor]
  });
})();

// row labels and distance labels
const LIV_TOP = [101, 266, 435, 602];
ROW_LABELS.forEach((t, i) => {
  const d = document.createElement('div');
  d.className = 'box';
  d.style.cssText += 'left:1255px; top:' + LIV_TOP[i] + 'px; width:56px; height:24px; line-height:22px; font-size:11px; padding-left:8px;';
  d.textContent = t;
  document.getElementById('liv').appendChild(d);
});
const DIST_X = [264, 449, 634, 818, 1002, 1196];
DIST_LABELS.forEach((t, i) => {
  const d = document.createElement('div');
  d.className = 'txt';
  d.style.cssText = 'left:' + DIST_X[i] + 'px; top:' + (i === 5 ? 725 : 722) + 'px; font-size:12px; line-height:14px; text-align:' + (i === 4 ? 'left' : 'center') + '; transform: translateX(-50%);';
  d.innerHTML = t;
  document.getElementById('dist').appendChild(d);
});
</script>
</body>
</html>
